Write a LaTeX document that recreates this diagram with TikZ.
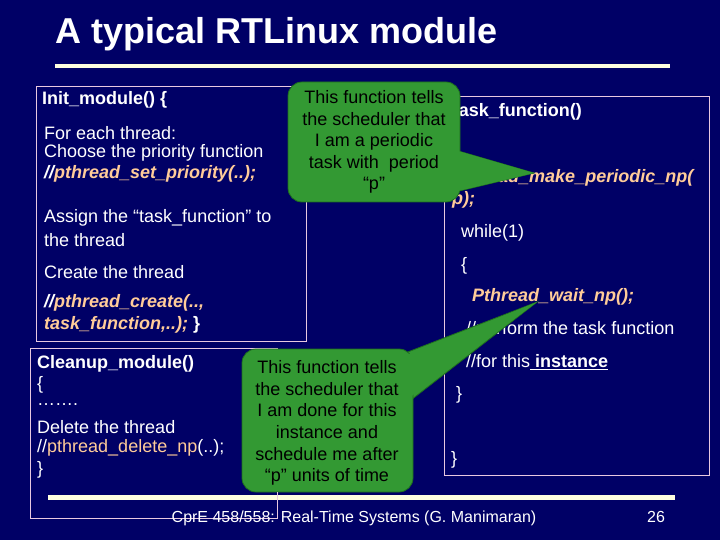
\documentclass[tikz,border=0pt]{standalone}
\usepackage{fontspec}
\setmainfont{Liberation Sans}
\begin{document}
\begin{tikzpicture}[x=1pt,y=-1pt,
  txt/.style={anchor=west,text=white,font=\fontsize{18}{21}\selectfont,inner sep=0pt},
  bt/.style={txt,font=\fontsize{18}{21}\selectfont\bfseries},
  bit/.style={txt,font=\fontsize{18}{21}\selectfont\bfseries\itshape},
  frame/.style={draw=boxline,line width=0.8pt},
  callout/.style={fill=calgreen,draw=caledge,line width=0.8pt},
  ct/.style={align=center,text=black,font=\fontsize{18}{21.6}\selectfont,inner sep=0pt}]
\definecolor{bg}{HTML}{000066}
\definecolor{calgreen}{HTML}{339933}
\definecolor{caledge}{HTML}{1E6E1E}
\definecolor{code}{HTML}{FFCC99}
\definecolor{boxline}{HTML}{E8C8E0}
\definecolor{rule}{HTML}{FFFFE0}
\useasboundingbox (0,0) rectangle (720,540);
\fill[bg] (0,0) rectangle (720,540);
% title
\node[anchor=west,text=white,font=\fontsize{36}{40}\selectfont\bfseries,inner sep=0pt] (title) at (55,34) {A typical RTLinux module};
\fill[rule] (55,64) rectangle (670,68);
% init box
\draw[frame] (36,86) rectangle (306,341);
\node[bt] (i1) at (42,100) {Init\_module() \{};
\node[txt] (i2) at (44,133) {For each thread:};
\node[txt] (i3) at (44,153) {Choose the priority function};
\node[bit] (i4) at (44,174) {//\textcolor{code}{pthread\_set\_priority(..);}};
\node[txt] (i5) at (44,218) {Assign the “task\_function” to};
\node[txt] (i6) at (44,240) {the thread};
\node[txt] (i7) at (44,272) {Create the thread};
\node[bit] (i8) at (44,303) {//\textcolor{code}{pthread\_create(..,}};
\node[bit] (i9) at (44,325) {\textcolor{code}{task\_function,..);} \upshape\}};
% cleanup box
\draw[frame] (30,348) rectangle (277,518);
\node[bt] (c1) at (37,364) {Cleanup\_module()};
\node[txt] (c2) at (37,385) {\{};
\node[txt] (c3) at (37,405) {…….};
\node[txt] (c4) at (37,427) {Delete the thread};
\node[txt] (c5) at (37,448) {//\textcolor{code}{pthread\_delete\_np}(..);};
\node[txt] (c6) at (37,470) {\}};
% task box
\draw[frame] (444,96) rectangle (709,475);
\node[bt] (t1) at (449,112) {Task\_function()};
\node[bit,text=code] (t2) at (452,178) {Pthread\_make\_periodic\_np(};
\node[bit,text=code] (t3) at (452,200) {p);};
\node[txt] (t4) at (461,233) {while(1)};
\node[txt] (t5) at (461,266) {\{};
\node[bit,text=code] (t6) at (472,297) {Pthread\_wait\_np();};
\node[txt] (t7) at (466,330) {//perform the task function};
\node[txt] (t8) at (466,362) {//for this\underline{\textbf{ instance}}};
\node[txt] (t9) at (456,395) {\}};
\node[txt] (t10) at (451,460) {\}};
% callout 1
\coordinate (tip1) at (534,173);
\draw[callout] (455,150) -- (tip1) -- (455,192) -- cycle;
\draw[callout,rounded corners=14pt] (288,82) rectangle (460,202);
\fill[calgreen] (458,151) -- (tip1) -- (458,191) -- cycle;
\node[ct] (n1) at (374,142) {This function tells\\the scheduler that\\I am a periodic\\task with\ \ period\\“p”};
% callout 2
\coordinate (tip2) at (537,302);
\draw[callout] (400,355) -- (tip2) -- (411,400) -- cycle;
\draw[callout,rounded corners=14pt] (242,349) rectangle (413,492);
\fill[calgreen] (400,358) -- (tip2) -- (409,398) -- (405,360) -- cycle;
\node[ct] (n2) at (327,423) {This function tells\\the scheduler that\\I am done for this\\instance and\\schedule me after\\“p” units of time};
% footer
\fill[rule] (48,495) rectangle (675,500);
\draw[boxline,line width=0.6pt] (277,492) -- (277,518);
\node[anchor=center,text=white,font=\fontsize{16}{18}\selectfont,inner sep=0pt] (foot) at (354,518) {CprE 458/558: Real-Time Systems (G. Manimaran)};
\node[anchor=center,text=white,font=\fontsize{16}{18}\selectfont,inner sep=0pt] (pg) at (656,517) {26};
\end{tikzpicture}
\end{document}
